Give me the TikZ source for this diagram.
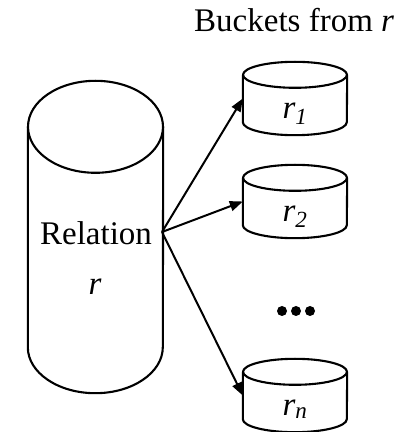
\documentclass[tikz,border=0pt]{standalone}
\usepackage{fontspec}
\setmainfont{Liberation Serif}
\usepackage{tikz}
\usetikzlibrary{positioning,arrows.meta}

\begin{document}
\begin{tikzpicture}[x=1pt,y=1pt,
  big/.style={rectangle,inner sep=0pt,minimum width=135pt,minimum height=220pt},
  bucket/.style={rectangle,inner sep=0pt,minimum width=104pt,minimum height=47pt},
  outline/.style={line width=2.1pt,line join=round},
  lbl/.style={inner sep=0pt,font=\fontsize{33}{40}\selectfont},
  dot/.style={circle,fill,inner sep=0pt,minimum size=10pt},
  arr/.style={line width=2pt,-{Triangle[length=13pt,width=10pt]}}
]
\useasboundingbox (0,0) rectangle (409,432);
\node[lbl,anchor=base west] (title) at (194,400) {Buckets from \textit{r}};
% relation r
\node[big] (rel) at (95.5,195) {};
\draw[outline] (rel.north) ellipse [x radius=67.5pt,y radius=46pt];
\draw[outline] (rel.north west) -- (rel.south west) arc[start angle=180,end angle=360,x radius=67.5pt,y radius=46pt] -- (rel.north east);
\node[lbl,anchor=base] (reltxt) at (96,187) {Relation};
\node[lbl,anchor=base] (relr) at (95,137) {\textit{r}};
% buckets
\node[bucket] (b1) at (295,333.5) {};
\node[bucket] (b2) at (295,230.5) {};
\node[bucket] (bn) at (295,36.5) {};
\draw[outline] (b1.north) ellipse [x radius=52pt,y radius=13pt];
\draw[outline] (b1.north west) -- (b1.south west) arc[start angle=180,end angle=360,x radius=52pt,y radius=13pt] -- (b1.north east);
\draw[outline] (b2.north) ellipse [x radius=52pt,y radius=13pt];
\draw[outline] (b2.north west) -- (b2.south west) arc[start angle=180,end angle=360,x radius=52pt,y radius=13pt] -- (b2.north east);
\draw[outline] (bn.north) ellipse [x radius=52pt,y radius=13pt];
\draw[outline] (bn.north west) -- (bn.south west) arc[start angle=180,end angle=360,x radius=52pt,y radius=13pt] -- (bn.north east);
\node[lbl,anchor=base] (l1) at ([yshift=4pt]b1.south) {\textit{r\textsubscript{1}}};
\node[lbl,anchor=base] (l2) at ([yshift=4pt]b2.south) {\textit{r\textsubscript{2}}};
\node[lbl,anchor=base] (ln) at ([yshift=4pt]bn.south) {\textit{r\textsubscript{n}}};
\node[dot] (d1) at (282,121) {};
\node[dot] (d2) at (296,121) {};
\node[dot] (d3) at (310,121) {};
% arrows
\coordinate (src) at (162,200);
\draw[arr] (src) -- (b1.west);
\draw[arr] (src) -- (b2.west);
\draw[arr] (src) -- (bn.west);
\end{tikzpicture}
\end{document}
